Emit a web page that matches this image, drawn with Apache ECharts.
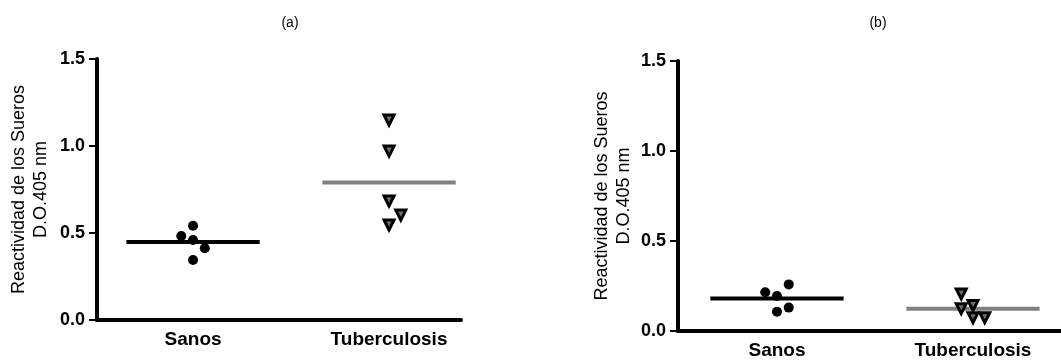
<!DOCTYPE html>
<html>
<head>
<meta charset="utf-8">
<script src="https://cdn.jsdelivr.net/npm/echarts@6/dist/echarts.min.js"></script>
<style>
  html, body { margin: 0; padding: 0; background: #fff; }
  #chart { width: 1061px; height: 361px; }
</style>
</head>
<body>
<div id="chart"></div>
<script>
  // grupos y lecturas D.O. 405 nm
  var groups = ['Sanos', 'Tuberculosis'];
  var yTicks = [0, 0.5, 1.0, 1.5];

  // (a)
  var sanosA = [0.542, 0.483, 0.460, 0.412, 0.345];
  var sanosAJit = [0, -1, 0, 1, 0];
  var tbA = [1.149, 0.971, 0.684, 0.603, 0.546];
  var tbAJit = [0, 0, 0, 1, 0];

  // (b)
  var sanosB = [0.259, 0.215, 0.194, 0.130, 0.107];
  var sanosBJit = [1, -1, 0, 1, 0];
  var tbB = [0.206, 0.141, 0.124, 0.074, 0.074];
  var tbBJit = [-1, 0, -1, 0, 1];

  var FONT = '"Liberation Sans", Arial, sans-serif';
  var JIT = 0.06;      // separacion horizontal de puntos
  var HALF = 0.34;     // media anchura de la linea de la media

  function mean(arr) {
    var s = 0;
    for (var i = 0; i < arr.length; i++) s += arr[i];
    return s / arr.length;
  }
  function pts(vals, jit, g) {
    return vals.map(function (v, i) { return [g + jit[i] * JIT, v]; });
  }
  function meanLine(vals, g) {
    var m = mean(vals);
    return [[g - HALF, m], [g + HALF, m]];
  }

  var dotStyle = { color: '#000', opacity: 1 };
  var triStyle = { color: '#6e6e6e', borderColor: '#000', borderWidth: 3, opacity: 1 };

  function xAx(idx, min, max) {
    return {
      type: 'value', gridIndex: idx, min: min, max: max,
      axisLine: { lineStyle: { color: '#000', width: 4 } },
      axisTick: { show: false },
      splitLine: { show: false },
      axisLabel: {
        customValues: [1, 2],
        margin: 10,
        color: '#000', fontFamily: FONT, fontWeight: 'bold', fontSize: 19,
        formatter: function (v) { return groups[Math.round(v) - 1] || ''; }
      }
    };
  }
  function yAx(idx, gap) {
    return {
      type: 'value', gridIndex: idx, min: yTicks[0], max: yTicks[yTicks.length - 1], interval: 0.5,
      name: 'Reactividad de los Sueros\nD.O.405 nm',
      nameLocation: 'middle', nameGap: gap,
      nameTextStyle: { color: '#000', fontFamily: FONT, fontSize: 18, lineHeight: 22 },
      axisLine: { show: true, lineStyle: { color: '#000', width: 4 } },
      axisTick: { show: true, length: 8, lineStyle: { color: '#000', width: 2 } },
      splitLine: { show: false },
      axisLabel: {
        margin: 12, color: '#000', fontFamily: FONT, fontWeight: 'bold', fontSize: 18,
        formatter: function (v) { return v.toFixed(1); }
      }
    };
  }

  var chart = echarts.init(document.getElementById('chart'));
  chart.setOption({
    animation: false,
    backgroundColor: '#fff',
    title: [
      { text: '(a)', left: 285, top: 11, textAlign: 'center',
        textStyle: { color: '#000', fontFamily: FONT, fontWeight: 'normal', fontSize: 14 } },
      { text: '(b)', left: 873, top: 11, textAlign: 'center',
        textStyle: { color: '#000', fontFamily: FONT, fontWeight: 'normal', fontSize: 14 } }
    ],
    grid: [
      { left: 97, width: 364, top: 59, height: 261 },
      { left: 678, width: 383, top: 61, height: 270 }
    ],
    xAxis: [xAx(0, 0.51, 0.51 + 364 / 196), xAx(1, 0.495, 0.495 + 383 / 196)],
    yAxis: [yAx(0, 45), yAx(1, 43)],
    series: [
      { type: 'line', xAxisIndex: 0, yAxisIndex: 0, data: meanLine(sanosA, 1), symbol: 'none',
        lineStyle: { color: '#000', width: 4 }, z: 2 },
      { type: 'line', xAxisIndex: 0, yAxisIndex: 0, data: meanLine(tbA, 2), symbol: 'none',
        lineStyle: { color: '#808080', width: 4 }, z: 2 },
      { type: 'scatter', xAxisIndex: 0, yAxisIndex: 0, data: pts(sanosA, sanosAJit, 1),
        symbol: 'circle', symbolSize: 10, itemStyle: dotStyle, z: 3 },
      { type: 'scatter', xAxisIndex: 0, yAxisIndex: 0, data: pts(tbA, tbAJit, 2),
        symbol: 'triangle', symbolRotate: 180, symbolSize: 10, itemStyle: triStyle, z: 3 },

      { type: 'line', xAxisIndex: 1, yAxisIndex: 1, data: meanLine(sanosB, 1), symbol: 'none',
        lineStyle: { color: '#000', width: 4 }, z: 2 },
      { type: 'line', xAxisIndex: 1, yAxisIndex: 1, data: meanLine(tbB, 2), symbol: 'none',
        lineStyle: { color: '#808080', width: 4 }, z: 2 },
      { type: 'scatter', xAxisIndex: 1, yAxisIndex: 1, data: pts(sanosB, sanosBJit, 1),
        symbol: 'circle', symbolSize: 10, itemStyle: dotStyle, z: 3 },
      { type: 'scatter', xAxisIndex: 1, yAxisIndex: 1, data: pts(tbB, tbBJit, 2),
        symbol: 'triangle', symbolRotate: 180, symbolSize: 10, itemStyle: triStyle, z: 3 }
    ]
  });
</script>
</body>
</html>
